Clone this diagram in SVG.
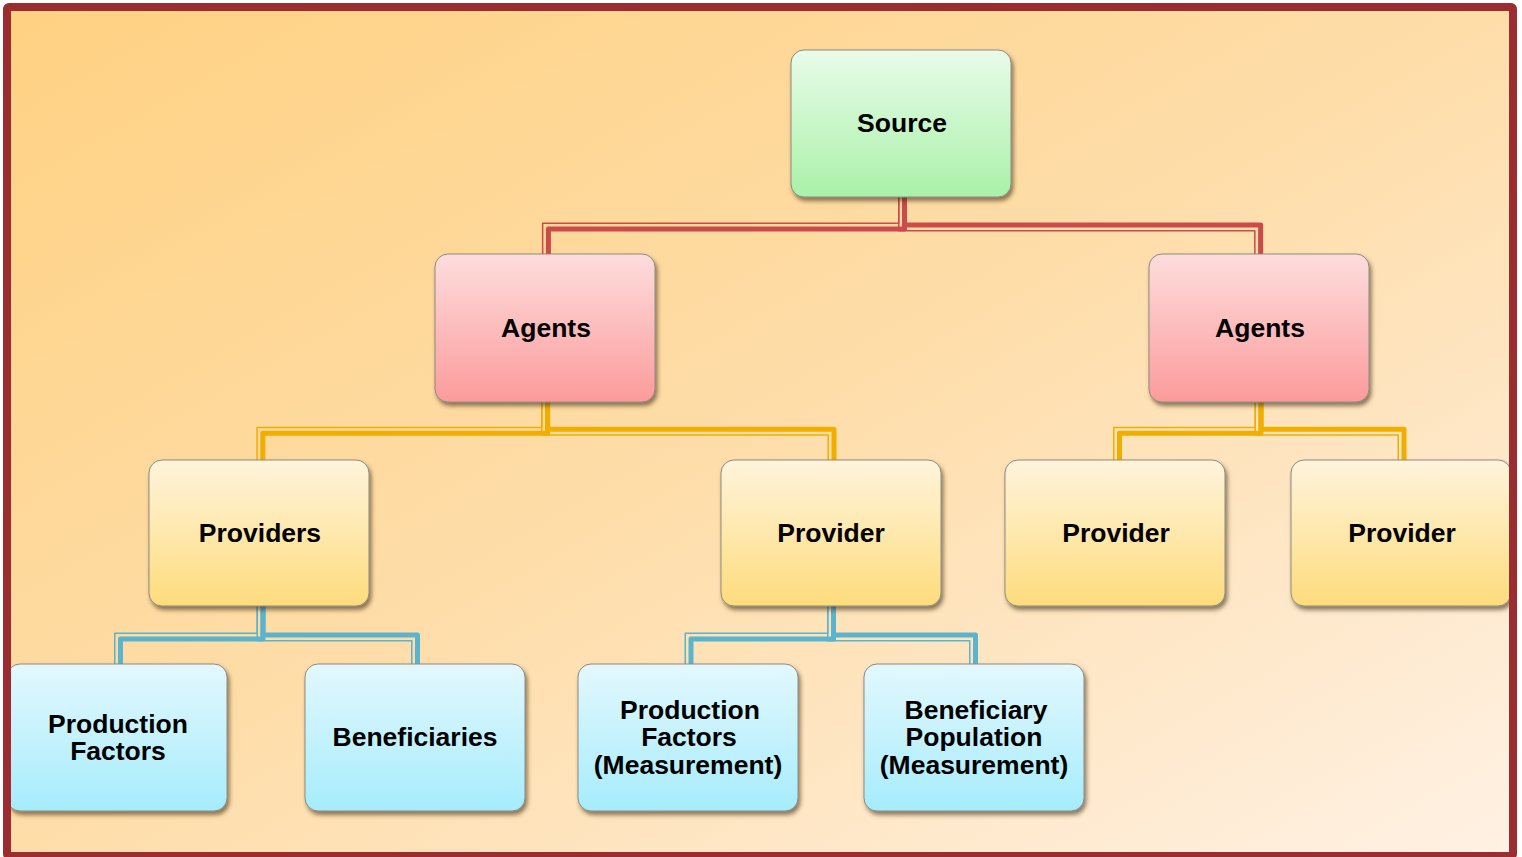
<svg xmlns="http://www.w3.org/2000/svg" width="1522" height="857" viewBox="0 0 1522 857">
  <defs>
    <linearGradient id="bg" x1="0" y1="0" x2="1" y2="1">
      <stop offset="0" stop-color="#FFD182"/>
      <stop offset="0.5" stop-color="#FEDDA9"/>
      <stop offset="1" stop-color="#FFF1E4"/>
    </linearGradient>
    <linearGradient id="gGreen" x1="0" y1="0" x2="0" y2="1">
      <stop offset="0" stop-color="#E9FCEA"/>
      <stop offset="1" stop-color="#A9F1A8"/>
    </linearGradient>
    <linearGradient id="gPink" x1="0" y1="0" x2="0" y2="1">
      <stop offset="0" stop-color="#FDDDDD"/>
      <stop offset="1" stop-color="#FC9B9B"/>
    </linearGradient>
    <linearGradient id="gYellow" x1="0" y1="0" x2="0" y2="1">
      <stop offset="0" stop-color="#FFF4DC"/>
      <stop offset="1" stop-color="#FDDC7C"/>
    </linearGradient>
    <linearGradient id="gBlue" x1="0" y1="0" x2="0" y2="1">
      <stop offset="0" stop-color="#E3F8FE"/>
      <stop offset="1" stop-color="#A6ECFC"/>
    </linearGradient>
    <filter id="shadow" x="-10%" y="-10%" width="125%" height="130%">
      <feDropShadow dx="2" dy="3.5" stdDeviation="2.2" flood-color="#3a2a10" flood-opacity="0.6"/>
    </filter>
  </defs>
  <style>
    .box { stroke: #8f8a80; stroke-width: 1; filter: url(#shadow); }
    .lbl { font-family: "Liberation Sans", Arial, sans-serif; font-weight: bold; font-size: 26.5px; fill: #000; text-anchor: middle; }
    .thick { fill: none; stroke-width: 5; stroke-linejoin: round; stroke-linecap: butt; }
    .thin { fill: none; stroke-width: 1.5; stroke-linejoin: round; stroke-linecap: butt; }
    .red { stroke: #CB4A4A; }
    .gold { stroke: #F0AE00; }
    .cyan { stroke: #5BB4CD; }
  </style>

  <!-- canvas -->
  <rect x="0" y="0" width="1522" height="857" fill="#ffffff"/>
  <rect x="7" y="7" width="1506" height="849" fill="url(#bg)"/>

  <!-- connectors: compound thick/thin lines -->
  <g id="connectors">
    <path class="thick red" d="M904.5 197 V229 H548.4 V254"/>
    <path class="thin red" d="M898.75 197 V223.25 H542.65 V254"/>
    <path class="thick red" d="M904.5 197 V225 H1260.6 V254"/>
    <path class="thin red" d="M898.75 197 V230.75 H1254.85 V254"/>

    <path class="thick gold" d="M547.6 402 V433.3 H262.8 V460"/>
    <path class="thin gold" d="M541.85 402 V427.55 H257.05 V460"/>
    <path class="thick gold" d="M547.6 402 V429.3 H834 V460"/>
    <path class="thin gold" d="M541.85 402 V435.05 H828.25 V460"/>

    <path class="thick gold" d="M1261 402 V433.3 H1119.5 V460"/>
    <path class="thin gold" d="M1255.25 402 V427.55 H1113.75 V460"/>
    <path class="thick gold" d="M1261 402 V429.3 H1404 V460"/>
    <path class="thin gold" d="M1255.25 402 V435.05 H1398.25 V460"/>

    <path class="thick cyan" d="M263 606 V639 H120.5 V664"/>
    <path class="thin cyan" d="M257.25 606 V633.25 H114.75 V664"/>
    <path class="thick cyan" d="M263 606 V635 H417.5 V664"/>
    <path class="thin cyan" d="M257.25 606 V640.75 H411.75 V664"/>

    <path class="thick cyan" d="M833.5 606 V639 H691 V664"/>
    <path class="thin cyan" d="M827.75 606 V633.25 H685.25 V664"/>
    <path class="thick cyan" d="M833.5 606 V635 H975.5 V664"/>
    <path class="thin cyan" d="M827.75 606 V640.75 H969.75 V664"/>
  </g>

  <!-- level 1 -->
  <g id="source">
    <rect class="box" x="791" y="50" width="220" height="147" rx="13" fill="url(#gGreen)"/>
    <text class="lbl" x="902" y="132">Source</text>
  </g>

  <!-- level 2 -->
  <g id="agents-left">
    <rect class="box" x="435" y="254" width="220" height="148" rx="13" fill="url(#gPink)"/>
    <text class="lbl" x="546" y="337">Agents</text>
  </g>
  <g id="agents-right">
    <rect class="box" x="1149" y="254" width="220" height="148" rx="13" fill="url(#gPink)"/>
    <text class="lbl" x="1260" y="337">Agents</text>
  </g>

  <!-- level 3 -->
  <g id="providers">
    <rect class="box" x="149" y="460" width="220" height="146" rx="13" fill="url(#gYellow)"/>
    <text class="lbl" x="260" y="542">Providers</text>
  </g>
  <g id="provider-1">
    <rect class="box" x="721" y="460" width="220" height="146" rx="13" fill="url(#gYellow)"/>
    <text class="lbl" x="831" y="542">Provider</text>
  </g>
  <g id="provider-2">
    <rect class="box" x="1005" y="460" width="220" height="146" rx="13" fill="url(#gYellow)"/>
    <text class="lbl" x="1116" y="542">Provider</text>
  </g>
  <g id="provider-3">
    <rect class="box" x="1291" y="460" width="220" height="146" rx="13" fill="url(#gYellow)"/>
    <text class="lbl" x="1402" y="542">Provider</text>
  </g>

  <!-- level 4 -->
  <g id="production-factors">
    <rect class="box" x="7" y="664" width="220" height="147" rx="13" fill="url(#gBlue)"/>
    <text class="lbl" x="118" y="733">Production</text>
    <text class="lbl" x="118" y="760">Factors</text>
  </g>
  <g id="beneficiaries">
    <rect class="box" x="305" y="664" width="220" height="147" rx="13" fill="url(#gBlue)"/>
    <text class="lbl" x="415" y="746">Beneficiaries</text>
  </g>
  <g id="production-factors-measurement">
    <rect class="box" x="578" y="664" width="220" height="147" rx="13" fill="url(#gBlue)"/>
    <text class="lbl" x="690" y="719">Production</text>
    <text class="lbl" x="689" y="746">Factors</text>
    <text class="lbl" x="688" y="774">(Measurement)</text>
  </g>
  <g id="beneficiary-population-measurement">
    <rect class="box" x="864" y="664" width="220" height="147" rx="13" fill="url(#gBlue)"/>
    <text class="lbl" x="976" y="719">Beneficiary</text>
    <text class="lbl" x="974" y="746">Population</text>
    <text class="lbl" x="974" y="774">(Measurement)</text>
  </g>

  <!-- outer frame -->
  <rect x="7" y="7" width="1506" height="849" rx="2" fill="none" stroke="#9B2D30" stroke-width="8"/>
</svg>
